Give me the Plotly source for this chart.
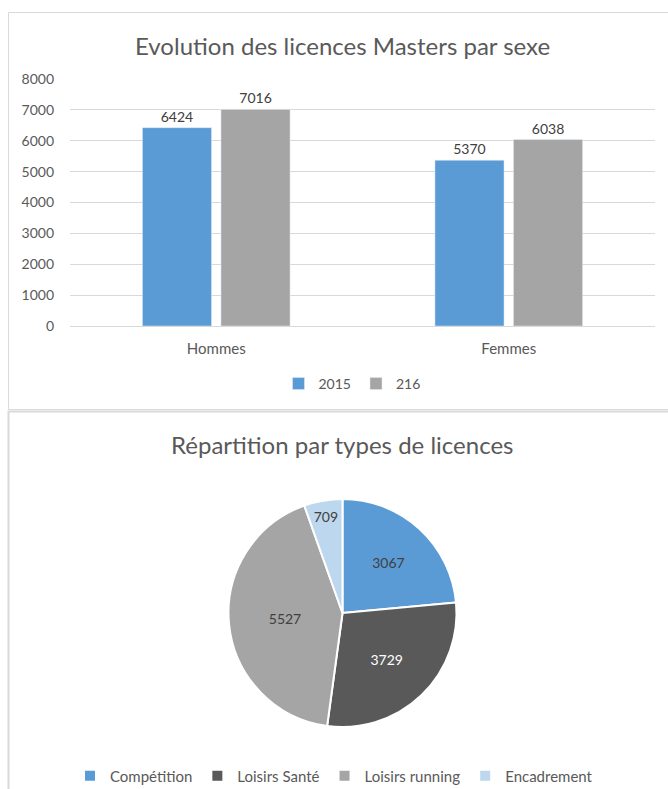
import plotly.graph_objects as go

W, H = 668, 789

# ---- data ----
categories = ["Hommes", "Femmes"]
series_names = ["2015", "216"]
values_2015 = [6424, 5370]
values_216 = [7016, 6038]
y_ticks = [0, 1000, 2000, 3000, 4000, 5000, 6000, 7000, 8000]

pie_labels = ["Compétition", "Loisirs Santé", "Loisirs running", "Encadrement"]
pie_values = [3067, 3729, 5527, 709]

title_bar = "Evolution des licences Masters par sexe"
title_pie = "Répartition par types de licences"

# ---- style ----
FONT = "Lato"
TXT = "#595959"
GRID = "#d9d9d9"
bar_colors = ["#5B9BD5", "#A5A5A5"]
pie_colors = ["#5B9BD5", "#595959", "#A5A5A5", "#BDD7EE"]
pie_text_colors = ["#404040", "#ffffff", "#404040", "#404040"]


def px_x(x):
    return x / W


def px_y(y):
    return 1 - y / H


fig = go.Figure()

for name, vals, col in zip(series_names, [values_2015, values_216], bar_colors):
    fig.add_trace(go.Bar(
        x=categories, y=vals, name=name, marker_color=col,
        text=[str(v) for v in vals], textposition="outside",
        textfont=dict(family=FONT, size=14, color="#404040"),
        cliponaxis=False, legend="legend",
    ))

fig.add_trace(go.Pie(
    labels=pie_labels, values=pie_values, sort=False, direction="clockwise",
    rotation=0, marker=dict(colors=pie_colors, line=dict(color="white", width=2)),
    textinfo="value", textposition="inside", insidetextorientation="horizontal",
    textfont=dict(family=FONT, size=14, color=pie_text_colors),
    domain=dict(x=[px_x(228), px_x(457)], y=[px_y(727), px_y(499)]),
    legend="legend2", hoverinfo="label+value",
))

fig.update_layout(
    width=W, height=H, margin=dict(l=0, r=0, t=0, b=0, autoexpand=False),
    paper_bgcolor="white", plot_bgcolor="white",
    font=dict(family=FONT, size=14, color=TXT),
    barmode="group", bargap=0.463, bargroupgap=0.12,
    xaxis=dict(domain=[px_x(70), px_x(655)], showgrid=False, showline=False,
               ticks="", ticklabelstandoff=12,
               tickfont=dict(family=FONT, size=15, color=TXT)),
    yaxis=dict(domain=[px_y(326), px_y(79)], range=[0, 8000],
               tickvals=y_ticks, showgrid=True, gridcolor=GRID, gridwidth=1,
               zeroline=True, zerolinecolor=GRID, zerolinewidth=1,
               showline=False, ticks="", ticklabelstandoff=15,
               tickfont=dict(family=FONT, size=14, color=TXT)),
    legend=dict(orientation="h", x=px_x(352), xanchor="center", y=px_y(384), yanchor="middle",
                font=dict(family=FONT, size=14, color=TXT), bgcolor="rgba(0,0,0,0)",
                itemwidth=30),
    legend2=dict(orientation="h", x=0.5, xanchor="center", y=px_y(776), yanchor="middle",
                 font=dict(family=FONT, size=15, color=TXT), bgcolor="rgba(0,0,0,0)",
                 itemwidth=30),
    showlegend=True,
    annotations=[
        dict(text=title_bar, x=px_x(342), y=px_y(45), xref="paper", yref="paper",
             showarrow=False, xanchor="center", yanchor="middle",
             font=dict(family=FONT, size=24, color=TXT)),
        dict(text=title_pie, x=px_x(342), y=px_y(444), xref="paper", yref="paper",
             showarrow=False, xanchor="center", yanchor="middle",
             font=dict(family=FONT, size=24, color=TXT)),
    ],
    shapes=[
        dict(type="rect", xref="paper", yref="paper", x0=px_x(8.5), x1=1.05,
             y0=px_y(409.5), y1=px_y(12.5), line=dict(color=GRID, width=1), layer="below"),
        dict(type="rect", xref="paper", yref="paper", x0=px_x(8.5), x1=1.05,
             y0=-0.05, y1=px_y(411.5), line=dict(color=GRID, width=2), layer="below"),
    ],
)

fig.write_html("out.html", config={"displayModeBar": False},
               post_script="document.body.style.margin='0';")
